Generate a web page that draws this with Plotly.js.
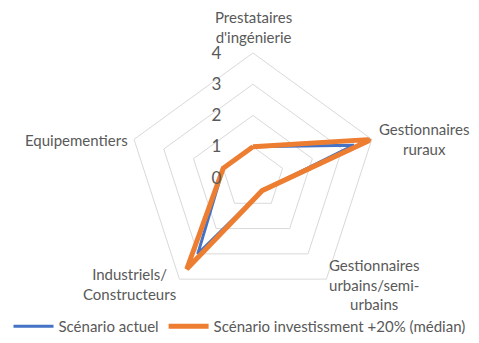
<!DOCTYPE html>
<html>
<head>
<meta charset="utf-8">
<script src="https://cdn.plot.ly/plotly-3.0.1.min.js"></script>
<style>html,body{margin:0;padding:0;background:#fff;}#chart{width:479px;height:343px;}</style>
</head>
<body>
<div id="chart"></div>
<script>
var categories = ["Prestataires<br>d'ingénierie", "Gestionnaires<br>ruraux", "Gestionnaires<br>urbains/semi-<br>urbains", "Industriels/<br>Constructeurs", "Equipementiers"];
var seriesNames = ["Scénario actuel", "Scénario investissment +20% (médian)"];
var actuel = [1, 3.4, 0.5, 3, 1];
var investissement = [1, 4, 0.5, 3.6, 1];
var radialTicks = [0, 1, 2, 3, 4];

function closeLoop(a) { return a.concat([a[0]]); }

var W = 479, H = 343;
// label anchor points (pixels) for the category labels placed around the radar
var labelPos = [[253, 27], [424, 139], [374, 284], [129, 284], [76, 140]];

var font = "Lato, 'Open Sans', sans-serif";
var traces = [
  {type: 'scatterpolar', mode: 'lines', name: seriesNames[0], r: closeLoop(actuel), theta: closeLoop(categories),
   line: {color: '#4472C4', width: 3}, hoverinfo: 'skip'},
  {type: 'scatterpolar', mode: 'lines', name: seriesNames[1], r: closeLoop(investissement), theta: closeLoop(categories),
   line: {color: '#ED7D31', width: 5}, hoverinfo: 'skip'}
];
var annotations = categories.map(function (c, i) {
  return {text: c, xref: 'paper', yref: 'paper', x: labelPos[i][0] / W, y: 1 - labelPos[i][1] / H,
          xanchor: 'center', yanchor: 'middle', align: 'center', showarrow: false,
          font: {size: 15, color: '#595959'}};
});
var layout = {
  width: W, height: H,
  margin: {l: 0, r: 0, t: 0, b: 0},
  paper_bgcolor: '#fff',
  font: {family: font, color: '#595959', size: 15},
  showlegend: true,
  legend: {orientation: 'h', x: 0.5, xanchor: 'center', y: 0, yanchor: 'bottom',
           font: {size: 15, color: '#595959'}, itemwidth: 40},
  annotations: annotations,
  polar: {
    domain: {x: [0.267, 0.789], y: [0.1166, 0.8455]},
    gridshape: 'linear',
    bgcolor: 'rgba(0,0,0,0)',
    angularaxis: {
      type: 'category', categoryorder: 'array', categoryarray: categories,
      rotation: 90, direction: 'clockwise',
      showgrid: false, showline: true, linecolor: '#d9d9d9', linewidth: 1,
      ticks: '', showticklabels: false
    },
    radialaxis: {
      range: [0, 4], tickvals: radialTicks, ticktext: radialTicks.map(String),
      angle: 90, tickangle: 90, side: 'counterclockwise',
      showline: false, ticks: 'outside', ticklen: 25, tickcolor: 'rgba(0,0,0,0)',
      gridcolor: '#d9d9d9', gridwidth: 1,
      tickfont: {size: 17, color: '#595959'}
    }
  }
};
Plotly.newPlot('chart', traces, layout, {staticPlot: true, displayModeBar: false});
</script>
</body>
</html>
